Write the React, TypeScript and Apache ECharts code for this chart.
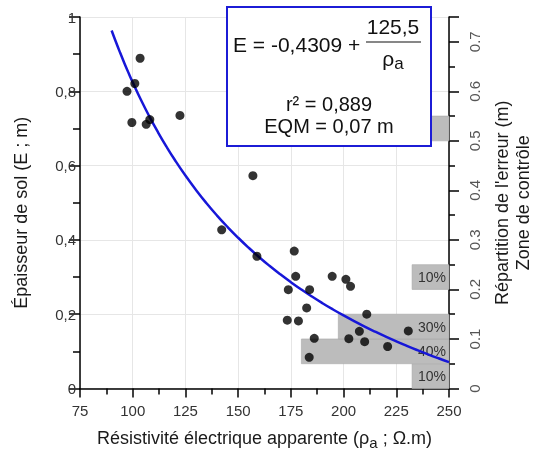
import React, { useEffect, useRef } from "react";
import * as echarts from "echarts";

// Observations: apparent resistivity (Ω.m) vs soil thickness (m)
const resistivity = [103.5, 101, 97.3, 99.6, 106.4, 108.1, 122.4, 157, 142.2, 158.9, 176.6, 177.3, 173.8, 183.9, 182.5, 173.3, 178.6, 186.1, 183.7, 194.6, 201.1, 203.3, 211, 207.5, 202.5, 210, 220.9, 230.7];
const thickness = [0.889, 0.821, 0.8, 0.716, 0.711, 0.724, 0.735, 0.573, 0.427, 0.356, 0.37, 0.302, 0.266, 0.266, 0.217, 0.184, 0.182, 0.135, 0.084, 0.302, 0.294, 0.275, 0.2, 0.154, 0.134, 0.126, 0.113, 0.155];

// Fitted model E = a + b / rho
const fitA = -0.4309;
const fitB = 125.5;
const fitX = [90, 92, 94, 96, 98, 100, 104, 108, 112, 116, 120, 125, 130, 135, 140, 145, 150, 155, 160, 165, 170, 175, 180, 185, 190, 195, 200, 205, 210, 215, 220, 225, 230, 235, 240, 245, 250];

// Error distribution (control zone)
const binLow = [0, 0.05, 0.1, 0.2, 0.5];
const binHigh = [0.05, 0.1, 0.15, 0.25, 0.55];
const binPct = [10, 40, 30, 10, 10];
const binLabel = ["10%", "40%", "30%", "10%", ""];

const FONT = "'Liberation Sans', Arial, sans-serif";

export default function App() {
  const ref = useRef<HTMLDivElement>(null);
  useEffect(() => {
    if (!ref.current) return;
    const chart = echarts.init(ref.current, null, { renderer: "svg" });
    const points = resistivity.map((r, i) => [r, thickness[i]]);
    const curve = fitX.map((x) => [x, fitA + fitB / x]);
    const bins = binPct.map((p, i) => [p, binLow[i], binHigh[i], i]);
    chart.setOption({
      animation: false,
      textStyle: { fontFamily: FONT },
      grid: { left: 80, right: 86, top: 17, bottom: 59, containLabel: false },
      xAxis: [
        {
          type: "value",
          min: 75,
          max: 250,
          interval: 25,
          name: "Résistivité électrique apparente (ρ{s|a} ; Ω.m)",
          nameLocation: "middle",
          nameGap: 39,
          nameTextStyle: {
            fontSize: 18,
            color: "#1a1a1a",
            fontFamily: FONT,
            lineHeight: 20,
            rich: { s: { fontSize: 15, lineHeight: 14, padding: [10, 0, 0, 0], color: "#1a1a1a", fontFamily: FONT } },
          },
          axisLine: { show: true, onZero: false, lineStyle: { color: "#000", width: 1.5 } },
          axisTick: { show: true, inside: false, length: 9, lineStyle: { color: "#000", width: 1.5 } },
          minorTick: { show: true, splitNumber: 2, length: 6, lineStyle: { color: "#000", width: 1.5 } },
          axisLabel: { fontSize: 15, color: "#333", margin: 14, fontFamily: FONT },
          splitLine: { show: true, lineStyle: { color: "#e6e6e6", width: 1 } },
        },
        {
          type: "value",
          min: 0,
          max: 100,
          inverse: true,
          show: false,
          splitLine: { show: false },
        },
      ],
      yAxis: [
        {
          type: "value",
          min: 0,
          max: 1,
          interval: 0.2,
          position: "left",
          name: "Épaisseur de sol (E ; m)",
          nameLocation: "middle",
          nameGap: 50,
          nameRotate: 90,
          nameTextStyle: { fontSize: 18, color: "#1a1a1a", fontFamily: FONT, padding: [0, 0, 0, -20] },
          axisLine: { show: true, onZero: false, lineStyle: { color: "#000", width: 1.5 } },
          axisTick: { show: true, inside: false, length: 11, lineStyle: { color: "#000", width: 1.5 } },
          minorTick: { show: true, splitNumber: 2, length: 7, lineStyle: { color: "#000", width: 1.5 } },
          axisLabel: {
            fontSize: 15,
            color: "#333",
            margin: 4,
            fontFamily: FONT,
            formatter: (v: number) => String(Math.round(v * 10) / 10).replace(".", ","),
          },
          splitLine: { show: true, lineStyle: { color: "#e6e6e6", width: 1 } },
        },
        {
          type: "value",
          min: 0,
          max: 0.75,
          interval: 0.1,
          position: "right",
          name: "Répartition de l'erreur (m)\nZone de contrôle",
          nameLocation: "middle",
          nameGap: 42,
          nameRotate: 90,
          nameTextStyle: { fontSize: 18, color: "#1a1a1a", fontFamily: FONT, lineHeight: 21 },
          axisLine: { show: true, onZero: false, lineStyle: { color: "#000", width: 1.5 } },
          axisTick: { show: true, inside: false, length: 10, lineStyle: { color: "#000", width: 1.5 } },
          minorTick: { show: true, splitNumber: 2, length: 6, lineStyle: { color: "#000", width: 1.5 } },
          axisLabel: {
            fontSize: 15,
            color: "#555",
            rotate: 90,
            margin: 18,
            showMaxLabel: false,
            fontFamily: FONT,
            formatter: (v: number) => String(Math.round(v * 10) / 10),
          },
          splitLine: { show: false },
        },
      ],
      series: [
        {
          type: "custom",
          name: "Zone de contrôle",
          xAxisIndex: 1,
          yAxisIndex: 1,
          z: 1,
          data: bins,
          renderItem: (params: any, api: any) => {
            const p = api.value(0);
            const lo = api.value(1);
            const hi = api.value(2);
            const idx = api.value(3);
            const a = api.coord([p, hi]);
            const b = api.coord([0, lo]);
            return {
              type: "group",
              children: [
                {
                  type: "rect",
                  shape: { x: a[0], y: a[1], width: b[0] - a[0], height: b[1] - a[1] },
                  style: { fill: "#bcbcbc", stroke: "#a8a8a8", lineWidth: 0.6 },
                },
                {
                  type: "text",
                  style: {
                    text: binLabel[idx],
                    x: b[0] - 3,
                    y: (a[1] + b[1]) / 2,
                    align: "right",
                    verticalAlign: "middle",
                    fontSize: 14,
                    fontFamily: FONT,
                    fill: "#333",
                  },
                },
              ],
            };
          },
        },
        {
          type: "line",
          name: "Modèle",
          data: curve,
          showSymbol: false,
          symbol: "none",
          smooth: true,
          z: 3,
          lineStyle: { color: "#1717d8", width: 2.5 },
        },
        {
          type: "scatter",
          name: "Observations",
          data: points,
          symbolSize: 9,
          z: 4,
          itemStyle: { color: "#000" },
        },
      ],
      graphic: [
        {
          type: "group",
          z: 100,
          children: [
            {
              type: "rect",
              z: 100,
              shape: { x: 227, y: 7, width: 204, height: 139 },
              style: { fill: "#fff", stroke: "#1c1cd6", lineWidth: 2 },
            },
            {
              type: "text",
              z: 101,
              style: { text: "E = -0,4309 +", x: 233, y: 44, align: "left", verticalAlign: "middle", fontSize: 21, fontFamily: FONT, fill: "#111" },
            },
            {
              type: "text",
              z: 101,
              style: { text: "125,5", x: 393, y: 26, align: "center", verticalAlign: "middle", fontSize: 21, fontFamily: FONT, fill: "#111" },
            },
            {
              type: "line",
              z: 101,
              shape: { x1: 366, y1: 42, x2: 421, y2: 42 },
              style: { stroke: "#111", lineWidth: 1.2 },
            },
            {
              type: "text",
              z: 101,
              style: {
                text: "ρ{s|a}",
                x: 393,
                y: 58,
                align: "center",
                verticalAlign: "middle",
                fontSize: 21,
                fontFamily: FONT,
                fill: "#111",
                rich: { s: { fontSize: 17, fontFamily: FONT, fill: "#111", padding: [10, 0, 0, 0], lineHeight: 14 } },
              },
            },
            {
              type: "text",
              z: 101,
              style: { text: "r² = 0,889", x: 329, y: 104, align: "center", verticalAlign: "middle", fontSize: 20, fontFamily: FONT, fill: "#111" },
            },
            {
              type: "text",
              z: 101,
              style: { text: "EQM = 0,07 m", x: 329, y: 126, align: "center", verticalAlign: "middle", fontSize: 20, fontFamily: FONT, fill: "#111" },
            },
          ],
        },
      ],
    });
    return () => chart.dispose();
  }, []);
  return <div ref={ref} style={{ position: "fixed", left: 0, top: 0, width: 541, height: 455 }} />;
}
